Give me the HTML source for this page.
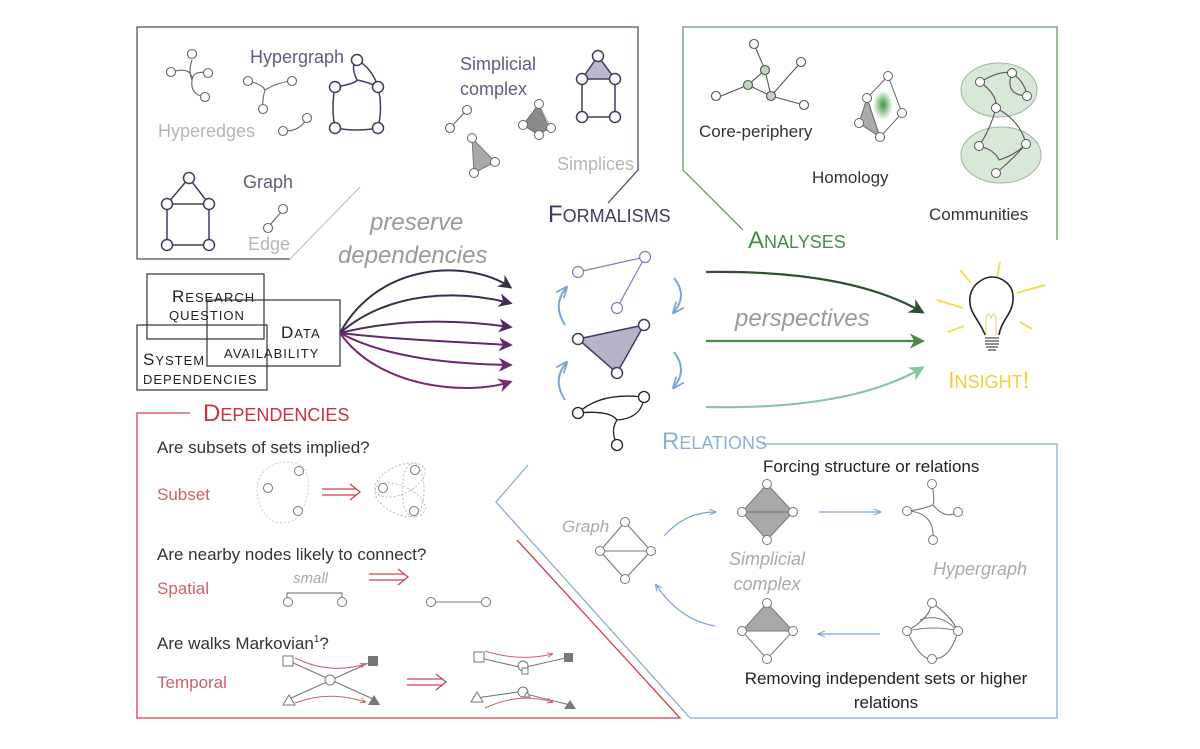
<!DOCTYPE html>
<html><head><meta charset="utf-8"><style>
html,body{margin:0;padding:0;background:#fff;}
svg{display:block;font-family:"Liberation Sans",sans-serif;}
</style></head><body>
<svg width="1200" height="749" viewBox="0 0 1200 749" xmlns="http://www.w3.org/2000/svg">
<defs>
<marker id="ah" viewBox="0 0 10 10" refX="8" refY="5" markerWidth="7" markerHeight="7" orient="auto-start-reverse"><path d="M0,0 L10,5 L0,10 L3,5z" fill="context-stroke"/></marker>
<marker id="sa" viewBox="0 0 10 10" refX="8" refY="5" markerWidth="6" markerHeight="6" orient="auto"><path d="M0,1 L10,5 L0,9" fill="none" stroke="context-stroke" stroke-width="1.5"/></marker>
<radialGradient id="hg"><stop offset="0" stop-color="#3a9a3a"/><stop offset="1" stop-color="#3a9a3a" stop-opacity="0"/></radialGradient>
</defs>

<path d="M290,259 L137,259 L137,27 L638,27 L638,170 L608,203" fill="none" stroke="#4a4f6a" stroke-width="1.3"/>
<path d="M290,259 L360,187" stroke="#bbb" stroke-width="1"/>
<path d="M743,230 L683,170 L683,27 L1057,27 L1057,240" fill="none" stroke="#6a9a6a" stroke-width="1.3"/>
<path d="M190,413 L137,413 L137,718 L680,718 L517,540" fill="none" stroke="#d04050" stroke-width="1.3"/>
<path d="M762,444 L1057,444 L1057,718 L690,718 L496,502 L528,465" fill="none" stroke="#8aacd4" stroke-width="1.3"/>

<g font-size="18" fill="#5a5f80">
<text x="250" y="63">Hypergraph</text>
<text x="460" y="70">Simplicial</text>
<text x="460" y="95">complex</text>
<text x="243" y="188">Graph</text>
</g>
<g font-size="18" fill="#b5b5b5">
<text x="158" y="137">Hyperedges</text>
<text x="557" y="170">Simplices</text>
<text x="248" y="250">Edge</text>
</g>

<g fill="#fff" stroke="#666" stroke-width="1.1">
<path d="M171,72 Q192,66 192,80 Q190,95 205,97 M192,80 Q193,70 208,73 M192,60 Q188,70 192,80" fill="none"/>
<circle cx="192" cy="54" r="4.5"/><circle cx="171" cy="72" r="4.5"/><circle cx="208" cy="73" r="4.5"/><circle cx="205" cy="97" r="4.5"/>
<path d="M248,81 Q262,84 265,90 Q278,82 292,81 M265,90 Q262,100 263,109" fill="none"/>
<circle cx="248" cy="81" r="4.5"/><circle cx="292" cy="81" r="4.5"/><circle cx="263" cy="109" r="4.5"/>
<path d="M283,131 Q300,132 307,118" fill="none"/><circle cx="283" cy="131" r="4.5"/><circle cx="307" cy="118" r="4.5"/>
<path d="M270,225 L281,212" fill="none"/><circle cx="268" cy="228" r="4.5"/><circle cx="283" cy="209" r="4.5"/>
<path d="M452,126 L465,112" fill="none"/><circle cx="450" cy="128" r="4.5"/><circle cx="467" cy="110" r="4.5"/>
</g>
<!-- hypergraph big -->
<g fill="none" stroke="#3a3f60" stroke-width="1.5">
<path d="M335,87 Q355,84 357,80 Q368,82 378,87 Q383,108 378,128 Q356,132 335,128 Q331,108 335,87z"/>
<path d="M357,80 Q350,66 357,60 M357,60 Q372,68 378,87"/>
</g>
<g fill="#fff" stroke="#3a3f60" stroke-width="1.5">
<circle cx="357" cy="60" r="5.5"/><circle cx="335" cy="87" r="5.5"/><circle cx="378" cy="87" r="5.5"/><circle cx="335" cy="128" r="5.5"/><circle cx="378" cy="128" r="5.5"/>
</g>
<path d="M598,56 L582,79 L615,79z" fill="#b8bacd" stroke="#3a3f60" stroke-width="1.5"/>
<g fill="#fff" stroke="#3a3f60" stroke-width="1.5">
<path d="M582,79 L582,117 L615,117 L615,79" fill="none"/>
<circle cx="598" cy="56" r="5.5"/><circle cx="582" cy="79" r="5.5"/><circle cx="615" cy="79" r="5.5"/><circle cx="582" cy="117" r="5.5"/><circle cx="615" cy="117" r="5.5"/>
</g>
<path d="M523,125 L539,104 L549,128 L539,135z" fill="#8a8a8a" stroke="#666"/>
<path d="M539,104 L549,128 L552,128z" fill="#bbb"/>
<circle cx="523" cy="125" r="4.5" fill="#fff" stroke="#666"/><circle cx="539" cy="104" r="4.5" fill="#fff" stroke="#666"/><circle cx="539" cy="135" r="4.5" fill="#fff" stroke="#666"/><circle cx="551" cy="128" r="4.5" fill="#fff" stroke="#666"/>
<path d="M472,138 L495,162 L474,173z" fill="#a8a8a8" stroke="#777"/>
<circle cx="472" cy="138" r="4.5" fill="#fff" stroke="#666"/><circle cx="495" cy="162" r="4.5" fill="#fff" stroke="#666"/><circle cx="474" cy="173" r="4.5" fill="#fff" stroke="#666"/>
<g fill="#fff" stroke="#3a3f60" stroke-width="1.5">
<path d="M189,178 L167,204 L209,204z M167,204 L167,245 L209,245 L209,204" fill="none"/>
<circle cx="189" cy="178" r="5.5"/><circle cx="167" cy="204" r="5.5"/><circle cx="209" cy="204" r="5.5"/><circle cx="167" cy="245" r="5.5"/><circle cx="209" cy="245" r="5.5"/>
</g>

<text x="370" y="230" font-size="24" font-style="italic" fill="#999">preserve</text>
<text x="338" y="263" font-size="24" font-style="italic" fill="#999">dependencies</text>
<text x="548" y="222" fill="#3a3f66" font-size="24">F<tspan font-size="18">ORMALISMS</tspan></text>

<g stroke="#555" stroke-width="1.1">
<path d="M716,98 L748,85 L771,96 L804,105 M748,85 L765,70 L771,96 M765,70 L754,44 M771,96 L801,62" fill="none"/>
</g>
<g stroke="#555" stroke-width="1.1">
<circle cx="754" cy="44" r="4.5" fill="#fff"/><circle cx="801" cy="62" r="4.5" fill="#fff"/><circle cx="716" cy="96" r="4.5" fill="#fff"/><circle cx="804" cy="105" r="4.5" fill="#fff"/>
<circle cx="765" cy="70" r="4.5" fill="#bfd6bf"/><circle cx="748" cy="85" r="4.5" fill="#bfd6bf"/><circle cx="771" cy="96" r="4.5" fill="#bfd6bf"/>
</g>
<text x="699" y="137" font-size="17" fill="#333">Core-periphery</text>
<ellipse cx="883" cy="105" rx="10" ry="15" fill="url(#hg)"/>
<path d="M867,98 L859,123 L880,137z" fill="#aaa" stroke="#666"/>
<path d="M867,98 L888,76 L902,113 L880,137" fill="none" stroke="#666"/>
<g fill="#fff" stroke="#666"><circle cx="867" cy="98" r="4.5"/><circle cx="888" cy="76" r="4.5"/><circle cx="902" cy="113" r="4.5"/><circle cx="880" cy="137" r="4.5"/><circle cx="859" cy="123" r="4.5"/></g>
<text x="812" y="183" font-size="17" fill="#333">Homology</text>
<ellipse cx="999" cy="90" rx="38" ry="27" fill="#d8e8d6" stroke="#9ab89a"/>
<ellipse cx="1001" cy="155" rx="40" ry="28" fill="#d8e8d6" stroke="#9ab89a"/>
<g fill="none" stroke="#555" stroke-width="1.1">
<path d="M980,82 Q1000,70 1012,73 Q1004,95 1027,96 M980,82 Q998,95 996,108 M1012,73 Q1025,82 1027,96 M996,108 Q990,130 979,146 M996,108 Q1020,120 1026,144 Q1010,162 996,173 M979,146 Q995,150 999,160 Q1015,155 1026,144"/>
</g>
<g fill="#fff" stroke="#555"><circle cx="980" cy="82" r="4.5"/><circle cx="1012" cy="73" r="4.5"/><circle cx="1027" cy="96" r="4.5"/><circle cx="996" cy="108" r="4.5"/><circle cx="979" cy="146" r="4.5"/><circle cx="1026" cy="144" r="4.5"/><circle cx="996" cy="173" r="4.5"/></g>
<text x="929" y="220" font-size="17" fill="#333">Communities</text>
<text x="748" y="248" fill="#4a8a4a" font-size="24">A<tspan font-size="18">NALYSES</tspan></text>

<g fill="none" stroke="#333" stroke-width="1.2">
<rect x="137" y="325" width="130" height="65"/>
<rect x="207" y="300" width="133" height="66"/>
<rect x="147" y="274" width="117" height="65"/>
</g>
<g fill="#222" letter-spacing="1">
<text x="172" y="302" font-size="17">R<tspan font-size="13">ESEARCH</tspan></text>
<text x="169" y="320" font-size="13">QUESTION</text>
<text x="281" y="338" font-size="17">D<tspan font-size="13">ATA</tspan></text>
<text x="224" y="358" font-size="13">AVAILABILITY</text>
<text x="143" y="365" font-size="17">S<tspan font-size="13">YSTEM</tspan></text>
<text x="143" y="384" font-size="13">DEPENDENCIES</text>
</g>

<g fill="none" stroke-width="2" marker-end="url(#ah)">
<path d="M340,333 C380,260 470,260 510,287" stroke="#33304a"/>
<path d="M340,333 C390,290 460,290 510,303" stroke="#3e2d52"/>
<path d="M340,333 C400,318 460,320 510,327" stroke="#4f2c5e"/>
<path d="M340,333 C400,340 460,342 510,345" stroke="#5e2b66"/>
<path d="M340,333 C390,360 460,364 510,365" stroke="#6b2a6c"/>
<path d="M340,333 C380,390 470,395 510,382" stroke="#772a70"/>
</g>

<g stroke="#7a80b8" stroke-width="1.2" fill="#fff">
<path d="M578,272 L645,257 L617,308" fill="none"/>
<circle cx="578" cy="272" r="5.5"/><circle cx="645" cy="257" r="5.5"/><circle cx="617" cy="308" r="5.5"/>
</g>
<path d="M578,339 L644,325 L617,373z" fill="#b4b6c8" stroke="#3a3f60" stroke-width="1.5"/>
<g stroke="#3a3f60" stroke-width="1.5" fill="#fff"><circle cx="578" cy="339" r="5.5"/><circle cx="644" cy="325" r="5.5"/><circle cx="617" cy="373" r="5.5"/></g>
<g stroke="#222" stroke-width="1.3" fill="none">
<path d="M578,413 Q600,392 644,397 M578,413 Q610,410 617,420 Q642,418 644,397 M617,420 Q610,430 617,445"/>
</g>
<g stroke="#222" stroke-width="1.3" fill="#fff"><circle cx="578" cy="413" r="5.5"/><circle cx="644" cy="397" r="5.5"/><circle cx="617" cy="445" r="5.5"/></g>
<g fill="none" stroke="#7aa6d6" stroke-width="2" marker-end="url(#sa)">
<path d="M565,325 Q552,305 566,288"/>
<path d="M565,400 Q552,380 566,363"/>
<path d="M674,278 Q688,295 674,312"/>
<path d="M674,352 Q688,370 674,387"/>
</g>

<g fill="none" stroke-width="2.2" marker-end="url(#ah)">
<path d="M706,272 Q850,270 922,312" stroke="#2f4f2f"/>
<path d="M706,341 L922,341" stroke="#4a8a4a"/>
<path d="M706,407 Q850,410 922,368" stroke="#8ac4a0"/>
</g>
<text x="735" y="326" font-size="24" font-style="italic" fill="#999">perspectives</text>

<g stroke="#f2de5a" stroke-width="2">
<line x1="1000" y1="262" x2="997" y2="278"/><line x1="960" y1="270" x2="971" y2="283"/><line x1="1017" y1="293" x2="1045" y2="285"/>
<line x1="937" y1="300" x2="963" y2="308"/><line x1="948" y1="332" x2="964" y2="326"/><line x1="1020" y1="322" x2="1032" y2="329"/>
</g>
<path d="M985,335 C980,320 968,313 970,297 C972,283 985,277 992,277 C1000,277 1013,283 1013,297 C1014,313 1001,320 999,335" fill="none" stroke="#222" stroke-width="1.6"/>
<path d="M986,335 L986,318 Q988,310 991,318 Q994,310 996,318 L996,335" fill="none" stroke="#e8d060" stroke-width="1"/>
<g stroke="#555" stroke-width="1.3"><line x1="985" y1="338" x2="999" y2="338"/><line x1="985" y1="341" x2="999" y2="341"/><line x1="985" y1="344" x2="999" y2="344"/><line x1="986" y1="347" x2="998" y2="347"/><line x1="988" y1="350" x2="996" y2="350"/></g>
<text x="948" y="388" fill="#f0d040" font-size="24">I<tspan font-size="18">NSIGHT</tspan>!</text>

<text x="662" y="449" fill="#8ab0d8" font-size="24">R<tspan font-size="18">ELATIONS</tspan></text>
<text x="763" y="472" font-size="17" fill="#222">Forcing structure or relations</text>
<text x="562" y="532" font-size="17" font-style="italic" fill="#aaa">Graph</text>
<g fill="none" stroke="#777" stroke-width="1.1"><path d="M625,522 L600,551 L625,579 L651,551z M600,551 L651,551"/></g>
<g fill="#fff" stroke="#777"><circle cx="625" cy="522" r="4.5"/><circle cx="600" cy="551" r="4.5"/><circle cx="651" cy="551" r="4.5"/><circle cx="625" cy="579" r="4.5"/></g>
<path d="M767,484 L742,512 L767,540 L793,512z" fill="#a8a8a8" stroke="#777"/>
<line x1="742" y1="512" x2="793" y2="512" stroke="#777"/>
<g fill="#fff" stroke="#777"><circle cx="767" cy="484" r="4.5"/><circle cx="742" cy="512" r="4.5"/><circle cx="793" cy="512" r="4.5"/><circle cx="767" cy="540" r="4.5"/></g>
<text x="767" y="565" font-size="18" font-style="italic" fill="#aaa" text-anchor="middle">Simplicial</text>
<text x="767" y="590" font-size="18" font-style="italic" fill="#aaa" text-anchor="middle">complex</text>
<path d="M767,603 L742,631 L793,631z" fill="#a8a8a8" stroke="#777"/>
<path d="M742,631 L767,659 L793,631" fill="none" stroke="#777"/>
<g fill="#fff" stroke="#777"><circle cx="767" cy="603" r="4.5"/><circle cx="742" cy="631" r="4.5"/><circle cx="793" cy="631" r="4.5"/><circle cx="767" cy="659" r="4.5"/></g>
<g fill="none" stroke="#777" stroke-width="1.1">
<path d="M932,484 Q935,500 933,505 Q920,510 907,511 M933,505 Q945,520 958,512 M907,511 Q935,512 933,540"/>
<path d="M932,603 Q930,618 907,631 M932,603 Q950,615 958,631 M907,631 Q935,625 958,631 M907,631 Q920,660 932,659 Q950,660 958,631 M920,620 Q940,612 958,631"/>
</g>
<g fill="#fff" stroke="#777"><circle cx="932" cy="484" r="4.5"/><circle cx="907" cy="511" r="4.5"/><circle cx="958" cy="512" r="4.5"/><circle cx="933" cy="540" r="4.5"/>
<circle cx="932" cy="603" r="4.5"/><circle cx="907" cy="631" r="4.5"/><circle cx="958" cy="631" r="4.5"/><circle cx="932" cy="659" r="4.5"/></g>
<text x="933" y="575" font-size="18" font-style="italic" fill="#aaa">Hypergraph</text>
<g fill="none" stroke="#7aa6d6" stroke-width="1.2" marker-end="url(#sa)">
<path d="M664,536 Q685,512 715,512"/>
<path d="M819,512 L880,512"/>
<path d="M880,634 L819,634"/>
<path d="M715,626 Q680,620 656,585"/>
</g>
<text x="886" y="684" font-size="17" fill="#222" text-anchor="middle">Removing independent sets or higher</text>
<text x="886" y="708" font-size="17" fill="#222" text-anchor="middle">relations</text>

<text x="203" y="421" fill="#d03040" font-size="24">D<tspan font-size="18">EPENDENCIES</tspan></text>
<g font-size="17" fill="#333">
<text x="157" y="453">Are subsets of sets implied?</text>
<text x="157" y="560">Are nearby nodes likely to connect?</text>
<text x="157" y="649">Are walks Markovian<tspan font-size="10" dy="-7">1</tspan><tspan dy="7">?</tspan></text>
</g>
<g font-size="17" fill="#d06068">
<text x="157" y="500">Subset</text>
<text x="157" y="594">Spatial</text>
<text x="157" y="688">Temporal</text>
</g>
<path d="M265,470 Q285,455 305,468 Q315,495 295,520 Q270,530 260,505 Q252,485 265,470z" fill="none" stroke="#ccc" stroke-dasharray="2,2"/>
<g fill="#fff" stroke="#777"><circle cx="299" cy="471" r="4.5"/><circle cx="268" cy="488" r="4.5"/><circle cx="298" cy="511" r="4.5"/></g>
<g fill="none" stroke="#d04050" stroke-width="1.3">
<path d="M322,489 L356,489 M322,495 L356,495 M350,484 L360,492 L350,500"/>
<path d="M369,574 L405,574 M369,580 L405,580 M398,569 L408,577 L398,585"/>
<path d="M407,679 L443,679 M407,685 L443,685 M436,674 L446,682 L436,690"/>
</g>
<g fill="none" stroke="#bbb" stroke-dasharray="2,2">
<ellipse cx="400" cy="480" rx="27" ry="14" transform="rotate(-25 400 480)"/>
<ellipse cx="413" cy="490" rx="11" ry="27"/>
<ellipse cx="400" cy="500" rx="27" ry="14" transform="rotate(25 400 500)"/>
</g>
<g fill="#fff" stroke="#777"><circle cx="383" cy="488" r="4.5"/><circle cx="415" cy="470" r="4.5"/><circle cx="414" cy="511" r="4.5"/></g>
<text x="293" y="583" font-size="15" font-style="italic" fill="#aaa">small</text>
<path d="M287,601 L287,593 L342,593 L342,601" fill="none" stroke="#666"/>
<line x1="431" y1="602" x2="486" y2="602" stroke="#777"/>
<g fill="#fff" stroke="#777"><circle cx="288" cy="602" r="4.5"/><circle cx="342" cy="602" r="4.5"/><circle cx="431" cy="602" r="4.5"/><circle cx="486" cy="602" r="4.5"/></g>
<g stroke="#777" stroke-width="1.1" fill="none">
<path d="M289,661 L373,699 M289,699 L373,661"/>
<path d="M476,657 L519,667 M526,667 L570,657 M476,698 L518,692 L570,705"/>
</g>
<g stroke="#d06068" fill="none" stroke-width="1" marker-end="url(#sa)">
<path d="M295,658 Q330,675 365,664"/><path d="M295,703 Q330,690 365,702"/>
<path d="M485,651 Q520,662 552,654"/><path d="M485,708 Q520,692 552,702"/>
</g>
<rect x="283" y="656" width="10" height="10" fill="#fff" stroke="#777"/>
<rect x="368" y="656" width="10" height="10" fill="#777"/>
<circle cx="330" cy="680" r="5" fill="#fff" stroke="#777"/>
<path d="M283,705 L289,695 L295,705z" fill="#fff" stroke="#777"/>
<path d="M368,705 L374,695 L380,705z" fill="#777"/>
<rect x="474" y="652" width="10" height="10" fill="#fff" stroke="#777"/>
<rect x="564" y="653" width="9" height="9" fill="#777"/>
<circle cx="523" cy="666" r="5" fill="#fff" stroke="#777"/><rect x="522" y="668" width="6" height="6" fill="#fff" stroke="#777"/>
<circle cx="523" cy="692" r="5" fill="#fff" stroke="#777"/><path d="M524,697 L527,692 L530,697z" fill="#fff" stroke="#777"/>
<path d="M471,702 L477,692 L483,702z" fill="#fff" stroke="#777"/>
<path d="M564,709 L570,700 L576,709z" fill="#777"/>
</svg>
</body></html>
